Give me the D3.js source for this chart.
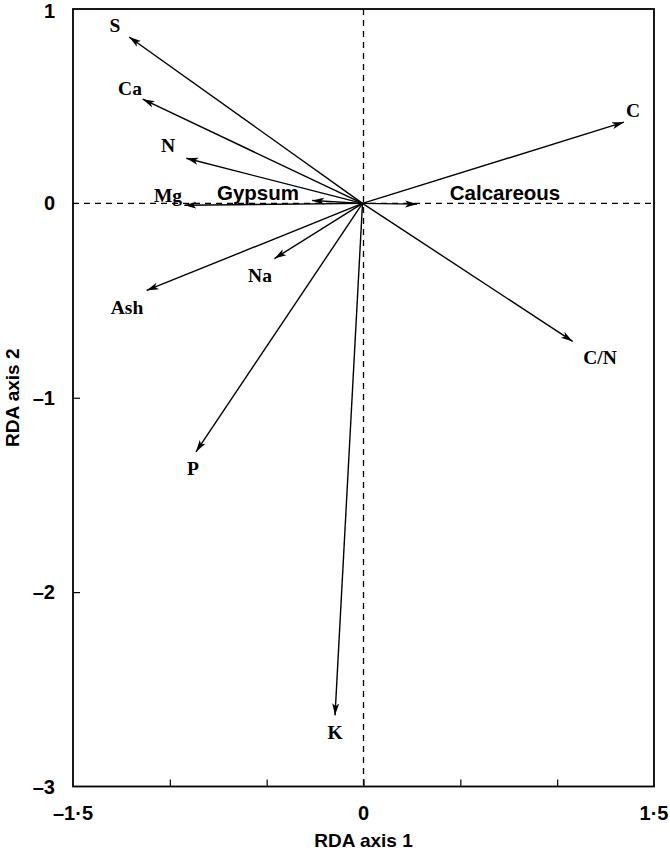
<!DOCTYPE html>
<html><head><meta charset="utf-8">
<script src="https://cdn.jsdelivr.net/npm/d3@7/dist/d3.min.js"></script>
<style>body{margin:0;background:#fff}</style>
</head><body>
<svg id="c" width="670" height="852"></svg>
<script>
const variables = ["S","Ca","N","Mg","Gypsum","Calcareous","Na","Ash","C","C/N","P","K"];
const axis1 = [-1.21,-1.14,-0.915,-0.925,-0.265,0.277,-0.46,-1.12,1.345,1.08,-0.865,-0.147];
const axis2 = [0.856,0.536,0.232,-0.01,0.015,-0.004,-0.284,-0.448,0.418,-0.71,-1.278,-2.634];
const labelX = [115,130,168,168,258,505,260,127,633,600,193,335];
const labelY = [25,88,145,195,193,193,275,307,110,357,468,732];
const sansLabels = ["Gypsum","Calcareous"];
const xTickVals = [-1.5,-1,-0.5,0,0.5,1,1.5];
const xTickLabels = {"-1.5":"\u20131\u00b75","0":"0","1.5":"1\u00b75"};
const yTickVals = [1,0,-1,-2,-3];
const yTickLabels = {"1":"1","0":"0","-1":"\u20131","-2":"\u20132","-3":"\u20133"};

const svg = d3.select("#c");
const L=73, R=654, T=9, B=786.5;
const x = d3.scaleLinear().domain([-1.5,1.5]).range([L,R]);
const y = d3.scaleLinear().domain([-3,1]).range([B,T]);

svg.append("defs").append("marker")
  .attr("id","ah").attr("viewBox","0 0 12 8").attr("refX",12).attr("refY",4)
  .attr("markerWidth",12).attr("markerHeight",8).attr("markerUnits","userSpaceOnUse")
  .attr("orient","auto")
  .append("path").attr("d","M0,0.5 L12,4 L0,7.5 L3,4 Z").attr("fill","#000");

// dashed zero lines
svg.append("line").attr("x1",L).attr("x2",R).attr("y1",y(0)).attr("y2",y(0))
  .attr("stroke","#000").attr("stroke-width",1.3).attr("stroke-dasharray","6,5");
svg.append("line").attr("x1",x(0)).attr("x2",x(0)).attr("y1",T).attr("y2",B)
  .attr("stroke","#000").attr("stroke-width",1.3).attr("stroke-dasharray","6,5");

// ticks (inward)
const xAxis = d3.axisBottom(x).tickValues(xTickVals.filter(v=>Math.abs(v)!==1.5)).tickSize(-7).tickFormat("");
svg.append("g").attr("transform",`translate(0,${B})`).call(xAxis)
  .call(g=>g.select(".domain").remove())
  .call(g=>g.selectAll("line").attr("stroke","#000").attr("stroke-width",1.2));
const yAxis = d3.axisLeft(y).tickValues([-1,-2]).tickSize(-7).tickFormat("");
svg.append("g").attr("transform",`translate(${L},0)`).call(yAxis)
  .call(g=>g.select(".domain").remove())
  .call(g=>g.selectAll("line").attr("stroke","#000").attr("stroke-width",1.2));

// frame
svg.append("rect").attr("x",L).attr("y",T).attr("width",R-L).attr("height",B-T)
  .attr("fill","none").attr("stroke","#000").attr("stroke-width",1.8);

// tick labels
const fs = "Arial, 'Liberation Sans', sans-serif";
[-1.5,0,1.5].forEach(v=>{
  svg.append("text").attr("x",x(v)).attr("y",B+33).attr("text-anchor","middle")
    .attr("font-family",fs).attr("font-weight","bold").attr("font-size",20)
    .text(xTickLabels[String(v)]);
});
yTickVals.forEach(v=>{
  svg.append("text").attr("x",55).attr("y",v===1 ? 18 : y(v)+7).attr("text-anchor","end")
    .attr("font-family",fs).attr("font-weight","bold").attr("font-size",20)
    .text(yTickLabels[String(v)]);
});
svg.append("text").attr("x",x(0)).attr("y",847).attr("text-anchor","middle")
  .attr("font-family",fs).attr("font-weight","bold").attr("font-size",19).text("RDA axis 1");
svg.append("text").attr("transform",`translate(19,${y(-1)}) rotate(-90)`).attr("text-anchor","middle")
  .attr("font-family",fs).attr("font-weight","bold").attr("font-size",19).text("RDA axis 2");

// arrows
variables.forEach((name,i)=>{
  svg.append("line").attr("x1",x(0)-1).attr("y1",y(0)).attr("x2",x(axis1[i])).attr("y2",y(axis2[i]))
    .attr("stroke","#000").attr("stroke-width",1.4).attr("marker-end","url(#ah)");
  const sans = sansLabels.includes(name);
  svg.append("text").attr("x",labelX[i]).attr("y",labelY[i]).attr("dy","0.35em")
    .attr("text-anchor","middle")
    .attr("font-family", sans ? fs : "'Times New Roman', 'Liberation Serif', serif")
    .attr("font-weight","bold").attr("font-size", sans ? 20.5 : 19.5)
    .text(name);
});
</script>
</body></html>
